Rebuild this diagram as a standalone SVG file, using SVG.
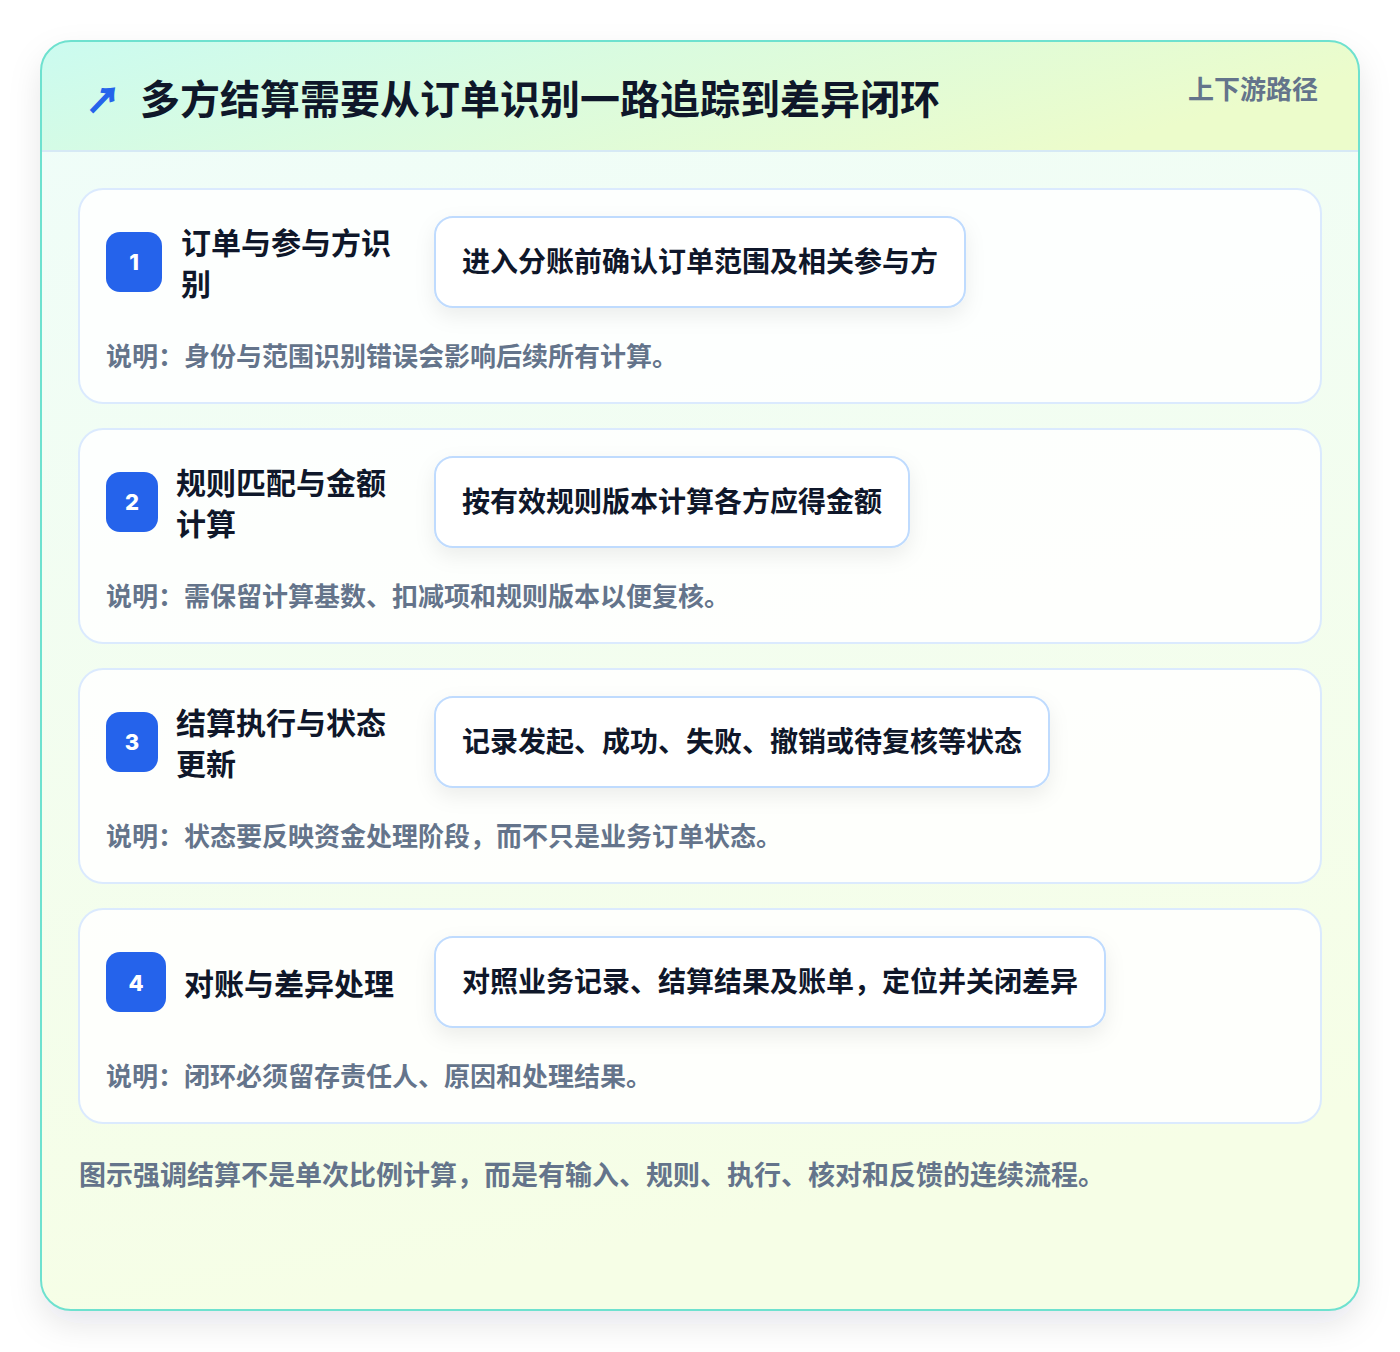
<svg xmlns="http://www.w3.org/2000/svg" width="1400" height="1352" viewBox="0 0 1400 1352">
  <defs>
    <linearGradient id="hdr" x1="0" y1="0" x2="1" y2="0.3">
      <stop offset="0" stop-color="#cbfbf0"/>
      <stop offset="1" stop-color="#ecfccb"/>
    </linearGradient>
    <linearGradient id="body" x1="0" y1="0" x2="0.2" y2="1">
      <stop offset="0" stop-color="#effdfa"/>
      <stop offset="1" stop-color="#f6fee6"/>
    </linearGradient>
    <clipPath id="cardClip">
      <rect x="41" y="41" width="1318" height="1269" rx="30"/>
    </clipPath>
    <filter id="outerShadow" x="-10%" y="-10%" width="120%" height="120%">
      <feDropShadow dx="0" dy="14" stdDeviation="16" flood-color="#0f172a" flood-opacity="0.10"/>
    </filter>
    <filter id="pillShadow" x="-10%" y="-30%" width="120%" height="170%">
      <feDropShadow dx="0" dy="8" stdDeviation="10" flood-color="#0f172a" flood-opacity="0.07"/>
    </filter>
  </defs>
  <style>
    text { font-family: "Noto Sans CJK SC", "Noto Sans", sans-serif; font-weight: 700; }
    .title { font-size: 40px; fill: #0f172a; }
    .tag { font-size: 26px; fill: #64748b; }
    .step { fill: rgba(255,255,255,0.85); stroke: #dbeafe; stroke-width: 2; }
    .badge { fill: #2563eb; }
    .num { font-family: "Inter", "Noto Sans", sans-serif; font-size: 22px; font-weight: 800; fill: #ffffff; text-anchor: middle; }
    .stitle { font-size: 30px; fill: #0f172a; }
    .pill { fill: #ffffff; stroke: #bfdbfe; stroke-width: 2; }
    .ptext { font-size: 28px; fill: #0f172a; }
    .desc { font-size: 26px; fill: #64748b; }
    .foot { font-size: 27px; fill: #64748b; }
  </style>
  <rect width="1400" height="1352" fill="#ffffff"/>
  <g id="frame">
    <rect x="41" y="41" width="1318" height="1269" rx="30" fill="url(#body)" filter="url(#outerShadow)"/>
    <g clip-path="url(#cardClip)">
      <rect x="41" y="41" width="1318" height="110" fill="url(#hdr)"/>
      <line x1="41" y1="151" x2="1359" y2="151" stroke="#d6e9f5" stroke-width="2"/>
    </g>
    <rect x="41" y="41" width="1318" height="1269" rx="30" fill="none" stroke="#6ee1cf" stroke-width="2"/>
  </g>
  <g id="header">
    <text x="86" y="113" font-size="34" fill="#2563eb" stroke="#2563eb" stroke-width="1.4">↗</text>
    <text class="title" x="140" y="114">多方结算需要从订单识别一路追踪到差异闭环</text>
    <text class="tag" x="1318" y="99" text-anchor="end">上下游路径</text>
  </g>
  <g id="connectors"></g>
  <g id="step1">
    <rect class="step" x="79" y="189" width="1242" height="214" rx="24"/>
    <rect class="badge" x="106" y="232" width="56" height="60" rx="14"/>
    <text class="num" x="134" y="270">1</text>
    <text class="stitle" x="181" y="254">订单与参与方识</text>
    <text class="stitle" x="181" y="295">别</text>
    <rect class="pill" x="435" y="217" width="530" height="90" rx="18" filter="url(#pillShadow)"/>
    <text class="ptext" x="462" y="272">进入分账前确认订单范围及相关参与方</text>
    <text class="desc" x="106" y="366">说明：身份与范围识别错误会影响后续所有计算。</text>
  </g>
  <g id="step2">
    <rect class="step" x="79" y="429" width="1242" height="214" rx="24"/>
    <rect class="badge" x="106" y="472" width="52" height="60" rx="14"/>
    <text class="num" x="132" y="510">2</text>
    <text class="stitle" x="176" y="494">规则匹配与金额</text>
    <text class="stitle" x="176" y="535">计算</text>
    <rect class="pill" x="435" y="457" width="474" height="90" rx="18" filter="url(#pillShadow)"/>
    <text class="ptext" x="462" y="512">按有效规则版本计算各方应得金额</text>
    <text class="desc" x="106" y="606">说明：需保留计算基数、扣减项和规则版本以便复核。</text>
  </g>
  <g id="step3">
    <rect class="step" x="79" y="669" width="1242" height="214" rx="24"/>
    <rect class="badge" x="106" y="712" width="52" height="60" rx="14"/>
    <text class="num" x="132" y="750">3</text>
    <text class="stitle" x="176" y="734">结算执行与状态</text>
    <text class="stitle" x="176" y="775">更新</text>
    <rect class="pill" x="435" y="697" width="614" height="90" rx="18" filter="url(#pillShadow)"/>
    <text class="ptext" x="462" y="752">记录发起、成功、失败、撤销或待复核等状态</text>
    <text class="desc" x="106" y="846">说明：状态要反映资金处理阶段，而不只是业务订单状态。</text>
  </g>
  <g id="step4">
    <rect class="step" x="79" y="909" width="1242" height="214" rx="24"/>
    <rect class="badge" x="106" y="952" width="60" height="60" rx="14"/>
    <text class="num" x="136" y="991">4</text>
    <text class="stitle" x="184" y="995">对账与差异处理</text>
    <rect class="pill" x="435" y="937" width="670" height="90" rx="18" filter="url(#pillShadow)"/>
    <text class="ptext" x="462" y="992">对照业务记录、结算结果及账单，定位并关闭差异</text>
    <text class="desc" x="106" y="1086">说明：闭环必须留存责任人、原因和处理结果。</text>
  </g>
  <g id="footer">
    <text class="foot" x="79" y="1185">图示强调结算不是单次比例计算，而是有输入、规则、执行、核对和反馈的连续流程。</text>
  </g>
</svg>
